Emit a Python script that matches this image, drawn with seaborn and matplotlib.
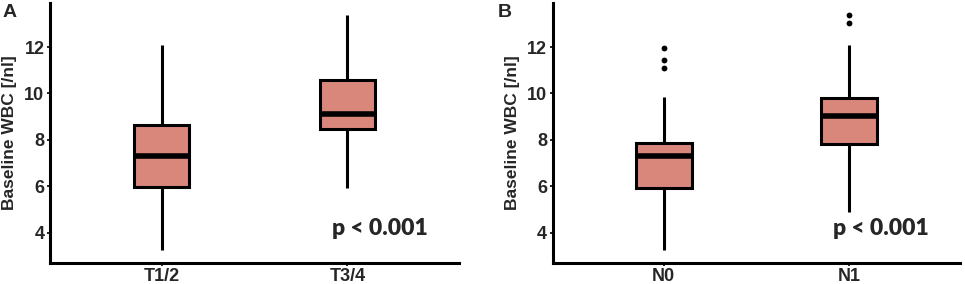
import numpy as np
import pandas as pd
import matplotlib
matplotlib.use('Agg')
import matplotlib.pyplot as plt
import seaborn as sns

# --- Data (five-number summaries) ---
t_groups = ['T1/2', 'T3/4']
t_low = [3.25, 5.94]
t_q1 = [5.98, 8.49]
t_med = [7.30, 9.13]
t_q3 = [8.63, 10.60]
t_high = [12.10, 13.40]
t_outliers = {'T1/2': [], 'T3/4': []}

n_groups = ['N0', 'N1']
n_low = [3.25, 4.89]
n_q1 = [5.94, 7.82]
n_med = [7.30, 9.02]
n_q3 = [7.87, 9.82]
n_high = [9.85, 12.10]
n_outliers = {'N0': [11.11, 11.42, 11.96], 'N1': [13.05, 13.40]}

p_text = 'p < 0.001'
y_label = 'Baseline WBC [/nl]'
panel_labels = ['A', 'B']

# --- Style ---
box_color = '#D9877B'
sns.set_theme(style='white')
plt.rcParams['font.family'] = ['Liberation Sans', 'DejaVu Sans']
plt.rcParams['font.weight'] = 'bold'


def summary_frame(groups, low, q1, med, q3, high):
    # five points per group give exactly these quartiles
    rows = []
    for i, g in enumerate(groups):
        for v in (low[i], q1[i], med[i], q3[i], high[i]):
            rows.append({'group': g, 'wbc': v})
    return pd.DataFrame(rows)


def outlier_frame(outliers):
    rows = [{'group': g, 'wbc': v} for g, vals in outliers.items() for v in vals]
    return pd.DataFrame(rows, columns=['group', 'wbc'])


def draw_panel(ax, groups, df, out_df):
    sns.boxplot(data=df, x='group', y='wbc', order=groups, ax=ax,
                color=box_color, saturation=1, width=0.3, whis=(0, 100),
                showcaps=False, linecolor='black', linewidth=2.2,
                medianprops={'linewidth': 4.0, 'color': 'black'},
                showfliers=False)
    if len(out_df):
        sns.stripplot(data=out_df, x='group', y='wbc', order=groups, ax=ax,
                      jitter=False, color='black', size=4.2)
    ax.set_xlim(-0.6, 1.6)
    ax.set_ylim(2.71, 13.89)
    ax.set_yticks([4, 6, 8, 10, 12])
    ax.set_xlabel('')
    ax.set_ylabel(y_label, fontsize=12.5, fontweight='bold')
    ax.yaxis.set_label_coords(-0.081, 0.5)
    sns.despine(ax=ax)
    for s in ('left', 'bottom'):
        ax.spines[s].set_linewidth(2.2)
        ax.spines[s].set_color('black')
    ax.tick_params(axis='both', length=2, width=1.2, color='black',
                   labelsize=13, pad=2, left=True, bottom=True)
    for t in ax.get_xticklabels() + ax.get_yticklabels():
        t.set_fontweight('bold')
    ax.text(1.43, 4.2, p_text, fontsize=16.5, fontweight='heavy',
            family=['Lato', 'DejaVu Sans'], ha='right', va='center')


fig = plt.figure(figsize=(9.65, 2.84), dpi=100)
ax_a = fig.add_axes([50 / 965, 0.075, 409 / 965, 0.914])
ax_b = fig.add_axes([552.7 / 965, 0.075, 407.3 / 965, 0.914])

draw_panel(ax_a, t_groups, summary_frame(t_groups, t_low, t_q1, t_med, t_q3, t_high),
           outlier_frame(t_outliers))
draw_panel(ax_b, n_groups, summary_frame(n_groups, n_low, n_q1, n_med, n_q3, n_high),
           outlier_frame(n_outliers))

fig.text(10 / 965, 0.955, panel_labels[0], fontsize=14, fontweight='bold', ha='center', va='center')
fig.text(505 / 965, 0.955, panel_labels[1], fontsize=14, fontweight='bold', ha='center', va='center')

fig.savefig('out.png', dpi=100)
